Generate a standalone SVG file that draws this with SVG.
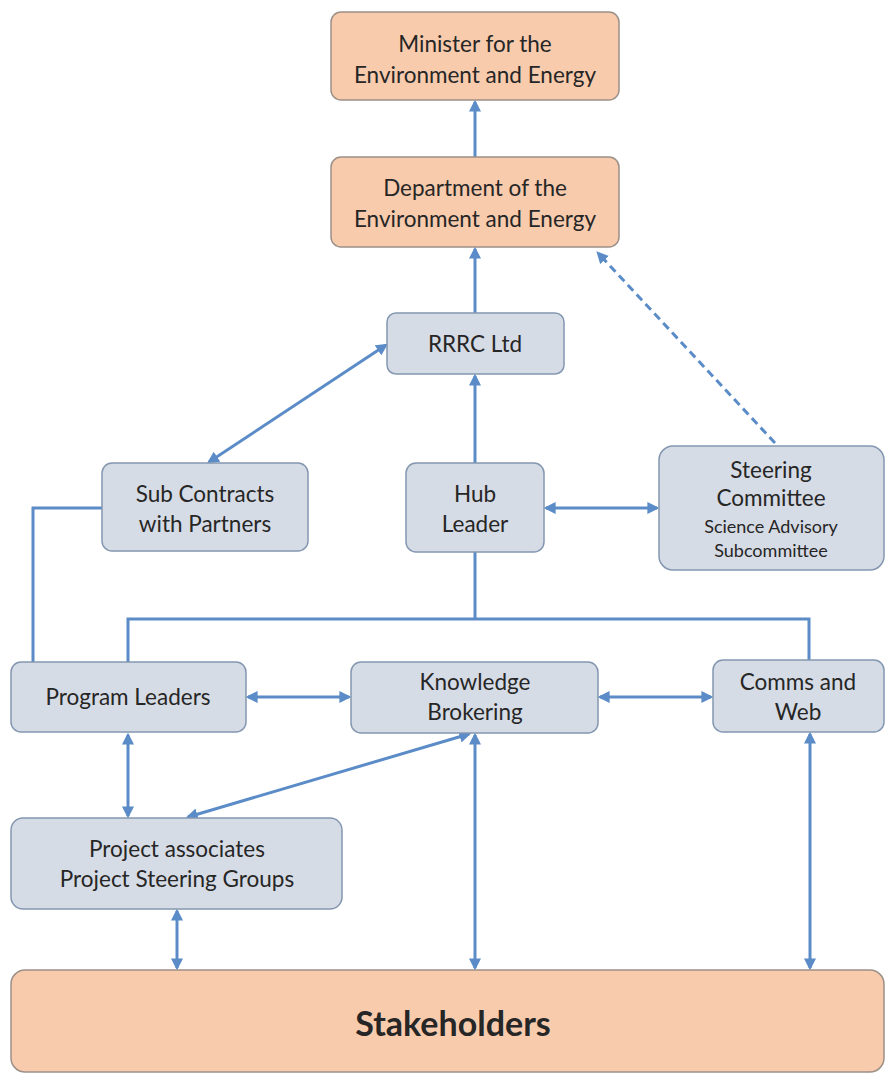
<svg xmlns="http://www.w3.org/2000/svg" width="887" height="1073" viewBox="0 0 887 1073">
<style>
.o{fill:#F8CBAD;stroke:#9C9088;stroke-width:1.5}
.b{fill:#D6DCE5;stroke:#8497B0;stroke-width:1.5}
text{font-family:Lato,"Liberation Sans",sans-serif;font-size:22.5px;fill:#262626;text-anchor:middle}
.s{font-size:18px}
.big{font-size:34px;font-weight:bold}
.c{stroke:#5B8CC8;stroke-width:3;fill:none}
</style>
<defs>
<marker id="a" viewBox="0 0 10 10" refX="8" refY="5" markerWidth="4" markerHeight="4" orient="auto-start-reverse"><path d="M0,0L10,5L0,10z" fill="#5B8CC8"/></marker>
</defs>
<g id="connectors">
<line class="c" x1="475" y1="157" x2="475" y2="102" marker-end="url(#a)"/>
<line class="c" x1="475" y1="313" x2="475" y2="249" marker-end="url(#a)"/>
<line class="c" x1="475" y1="463" x2="475" y2="376" marker-end="url(#a)"/>
<line class="c" x1="209" y1="462" x2="386" y2="345" marker-start="url(#a)" marker-end="url(#a)"/>
<line class="c" x1="775" y1="443" x2="598" y2="253" stroke-dasharray="8,5" marker-end="url(#a)"/>
<line class="c" x1="546" y1="508" x2="657" y2="508" stroke-width="4" marker-start="url(#a)" marker-end="url(#a)"/>
<polyline class="c" points="102,508 33,508 33,662"/>
<polyline class="c" points="475,552 475,619"/>
<polyline class="c" points="128,662 128,619 809,619 809,660"/>
<line class="c" x1="248" y1="697" x2="349" y2="697" marker-start="url(#a)" marker-end="url(#a)"/>
<line class="c" x1="600" y1="697" x2="711" y2="697" marker-start="url(#a)" marker-end="url(#a)"/>
<line class="c" x1="128" y1="735" x2="128" y2="816" marker-start="url(#a)" marker-end="url(#a)"/>
<line class="c" x1="469" y1="734" x2="188" y2="817" marker-start="url(#a)" marker-end="url(#a)"/>
<line class="c" x1="177" y1="911" x2="177" y2="968" marker-start="url(#a)" marker-end="url(#a)"/>
<line class="c" x1="475" y1="735" x2="475" y2="968" marker-start="url(#a)" marker-end="url(#a)"/>
<line class="c" x1="810" y1="734" x2="810" y2="968" marker-start="url(#a)" marker-end="url(#a)"/>
</g>
<g id="minister"><rect class="o" x="331" y="12" width="288" height="88" rx="10"/><text x="475" y="52">Minister for the</text><text x="475" y="83">Environment and Energy</text></g>
<g id="department"><rect class="o" x="331" y="157" width="288" height="90" rx="10"/><text x="475" y="196">Department of the</text><text x="475" y="227">Environment and Energy</text></g>
<g id="rrrc"><rect class="b" x="387" y="313" width="177" height="61" rx="9"/><text x="475" y="352">RRRC Ltd</text></g>
<g id="subcontracts"><rect class="b" x="102" y="463" width="206" height="88" rx="10"/><text x="205" y="502">Sub Contracts</text><text x="205" y="532">with Partners</text></g>
<g id="hub"><rect class="b" x="406" y="463" width="138" height="89" rx="10"/><text x="475" y="502">Hub</text><text x="475" y="532">Leader</text></g>
<g id="steering"><rect class="b" x="659" y="446" width="225" height="124" rx="14"/><text x="771" y="478">Steering</text><text x="771" y="506">Committee</text><text class="s" x="771" y="533">Science Advisory</text><text class="s" x="771" y="557">Subcommittee</text></g>
<g id="program"><rect class="b" x="11" y="662" width="235" height="70" rx="10"/><text x="128" y="705">Program Leaders</text></g>
<g id="knowledge"><rect class="b" x="351" y="662" width="247" height="71" rx="10"/><text x="475" y="690">Knowledge</text><text x="475" y="720">Brokering</text></g>
<g id="comms"><rect class="b" x="713" y="660" width="171" height="72" rx="10"/><text x="798" y="690">Comms and</text><text x="798" y="720">Web</text></g>
<g id="project"><rect class="b" x="11" y="818" width="331" height="91" rx="12"/><text x="177" y="857">Project associates</text><text x="177" y="887">Project Steering Groups</text></g>
<g id="stakeholders"><rect class="o" x="11" y="970" width="873" height="102" rx="14"/><text class="big" x="453" y="1036">Stakeholders</text></g>
</svg>
